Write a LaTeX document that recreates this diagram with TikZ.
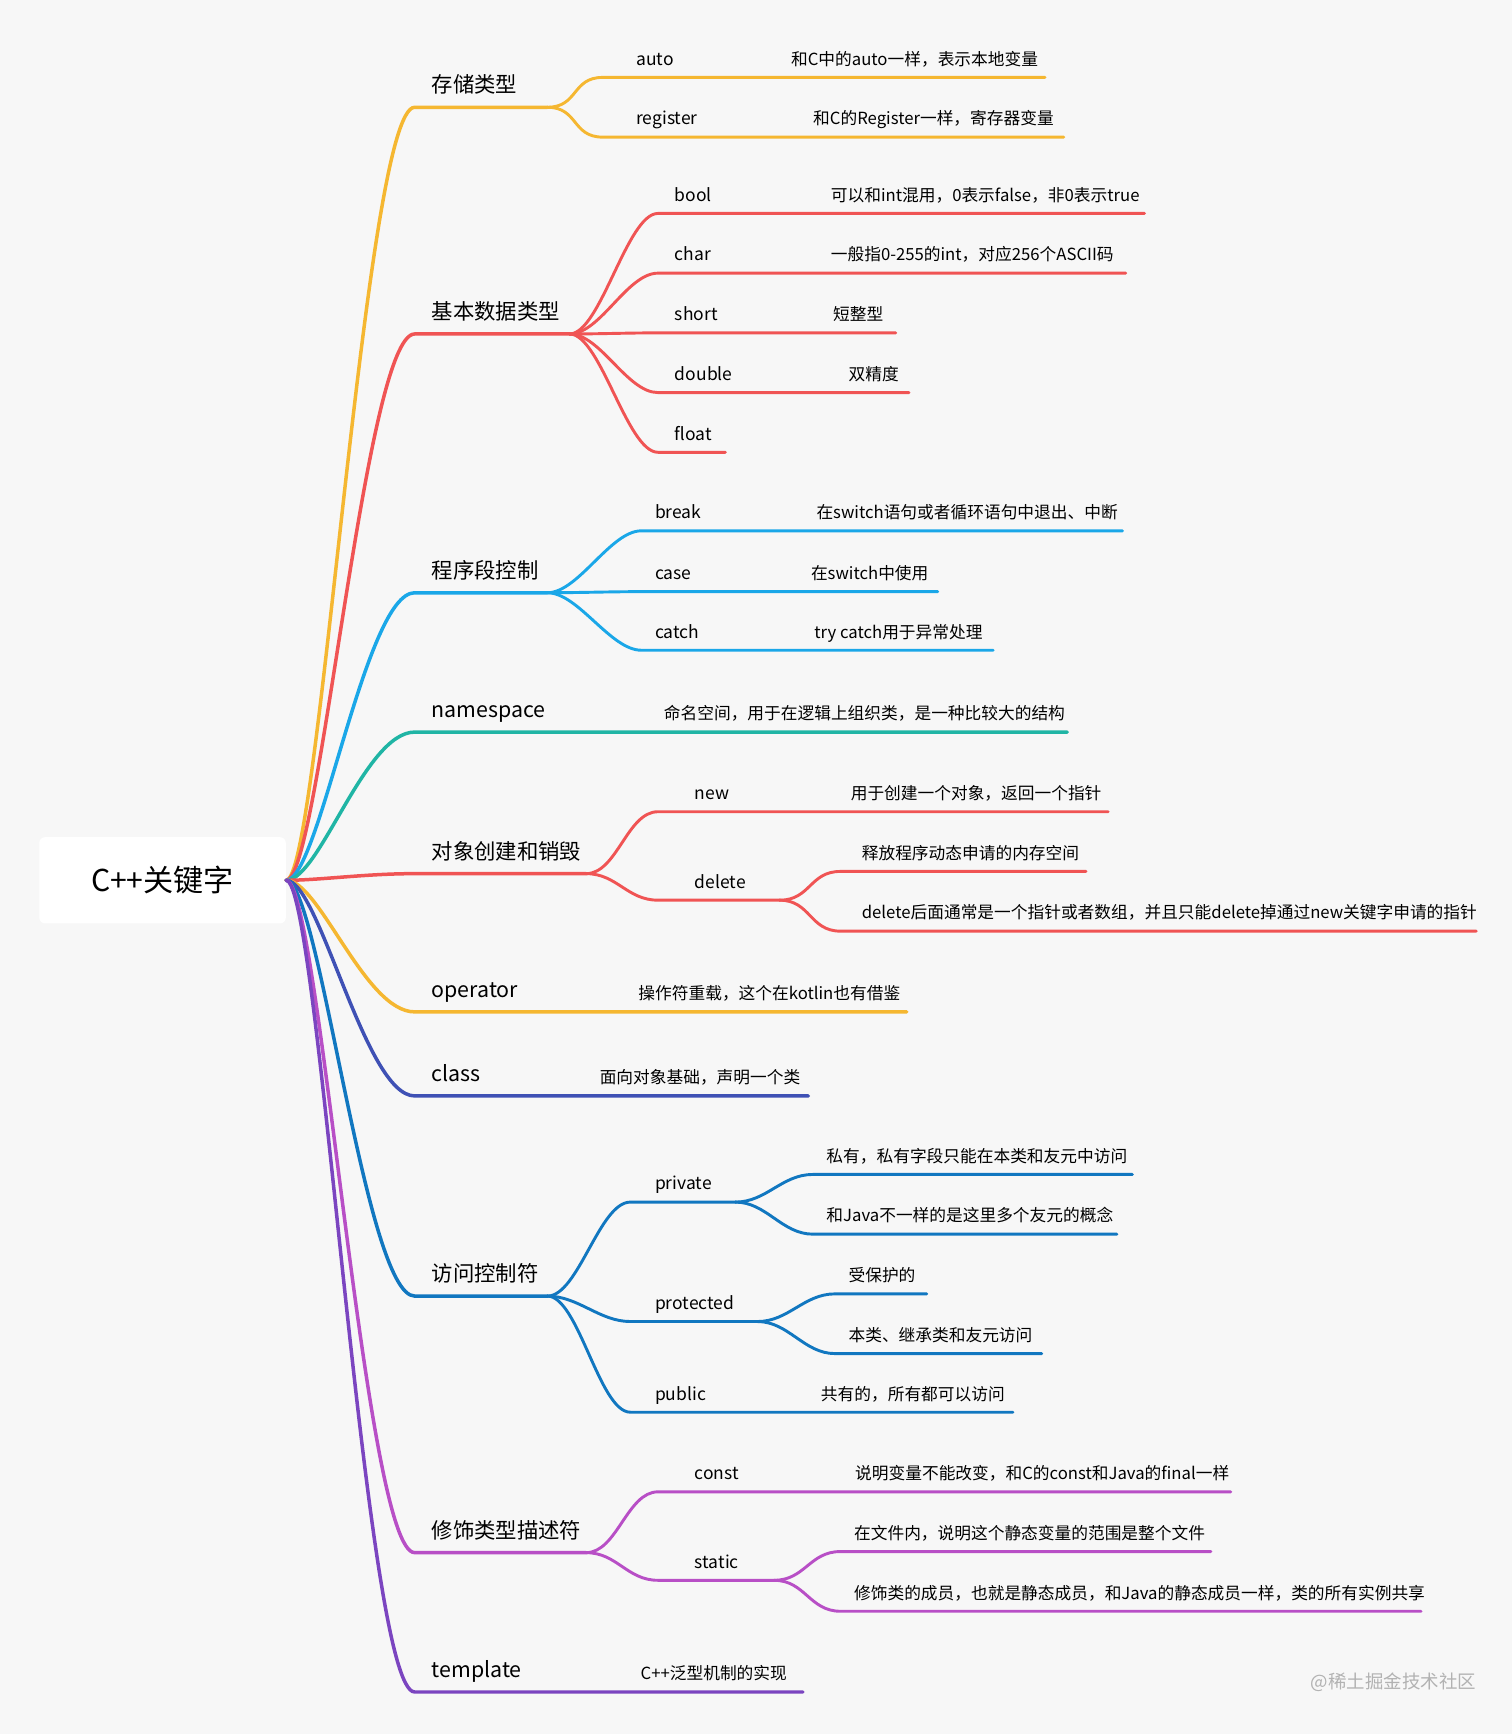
\documentclass[tikz,border=0pt]{standalone}
\usepackage{fontspec}
\setmainfont{Noto Sans CJK SC}
\usetikzlibrary{positioning}

\definecolor{bg}{HTML}{F7F7F7}
\definecolor{corange}{HTML}{F5B731}
\definecolor{cred}{HTML}{F05454}
\definecolor{cblue}{HTML}{1AA7E8}
\definecolor{cteal}{HTML}{20B5A5}
\definecolor{cindigo}{HTML}{3F51B5}
\definecolor{cdblue}{HTML}{1177C0}
\definecolor{cpurple}{HTML}{B84FC6}
\definecolor{cviolet}{HTML}{7B45C0}

\tikzset{
  wire/.style={line width=1.5pt, line cap=round},
  trunk/.style={line width=1.8pt, line cap=round},
  toptext/.style={font=\fontsize{11}{13}\selectfont, anchor=base west, inner sep=0pt},
  keytext/.style={font=\fontsize{9}{11}\selectfont, anchor=base west, inner sep=0pt},
  desctext/.style={font=\fontsize{8.6}{10}\selectfont, anchor=base west, inner sep=0pt},
}

% colour, from, x start, y, x end, key x, key, desc x, desc
\newcommand\leaf[9]{%
  \coordinate (ls) at (#3,#4);
  \coordinate (le) at (#5,#4);
  \draw[#1,wire] (#2) .. controls +(28,0) and +(-28,0) .. (ls) -- (le);
  \node[keytext] at (#6,#4-11) {#7};
  \node[desctext] at (#8,#4-11) {#9};
}
% colour, name, y, x end, text
\newcommand\topic[5]{%
  \coordinate (#2s) at (375,#3);
  \coordinate (#2) at (#4,#3);
  \draw[#1,trunk] (root.east) .. controls +(30,0) and +(-45,0) .. (#2s) -- (#2);
  \node[toptext] at (390,#3-13) {#5};
}

\begin{document}
\begin{tikzpicture}[x=0.02cm,y=-0.02cm]
  \fill[bg] (0,0) rectangle (1367,1568);
  \useasboundingbox (0,0) rectangle (1367,1568);

  \node[fill=white, rounded corners=3pt, minimum width=4.46cm, minimum height=1.56cm,
        font=\fontsize{15.5}{18}\selectfont] (root) at (147,796) {C++关键字};

  % 存储类型
  \topic{corange}{cunchu}{97}{495}{存储类型}
  \leaf{corange}{cunchu}{545}{70}{945}{575}{auto}{715}{和C中的auto一样，表示本地变量}
  \leaf{corange}{cunchu}{545}{124}{962}{575}{register}{735}{和C的Register一样，寄存器变量}

  % 基本数据类型
  \topic{cred}{jiben}{302}{515}{基本数据类型}
  \leaf{cred}{jiben}{595}{193}{1035}{610}{bool}{751}{可以和int混用，0表示false，非0表示true}
  \leaf{cred}{jiben}{595}{247}{1018}{610}{char}{751}{一般指0-255的int，对应256个ASCII码}
  \leaf{cred}{jiben}{595}{301}{810}{610}{short}{753}{短整型}
  \leaf{cred}{jiben}{595}{355}{822}{610}{double}{767}{双精度}
  \leaf{cred}{jiben}{595}{409}{656}{610}{float}{700}{}

  % 程序段控制
  \topic{cblue}{chengxu}{536}{495}{程序段控制}
  \leaf{cblue}{chengxu}{580}{480}{1015}{592}{break}{738}{在switch语句或者循环语句中退出、中断}
  \leaf{cblue}{chengxu}{580}{535}{848}{592}{case}{733}{在switch中使用}
  \leaf{cblue}{chengxu}{580}{588}{898}{592}{catch}{736}{try catch用于异常处理}

  % namespace
  \topic{cteal}{ns}{662}{965}{namespace}
  \node[desctext] at (600,651) {命名空间，用于在逻辑上组织类，是一种比较大的结构};

  % 对象创建和销毁
  \topic{cred}{duixiang}{790}{530}{对象创建和销毁}
  \leaf{cred}{duixiang}{595}{734}{1002}{628}{new}{769}{用于创建一个对象，返回一个指针}
  \leaf{cred}{duixiang}{595}{814}{705}{628}{delete}{700}{}
  \coordinate (del) at (705,814);
  \leaf{cred}{del}{760}{788}{982}{780}{}{779}{释放程序动态申请的内存空间}
  \leaf{cred}{del}{760}{842}{1335}{780}{}{779}{delete后面通常是一个指针或者数组，并且只能delete掉通过new关键字申请的指针}

  % operator
  \topic{corange}{op}{915}{820}{operator}
  \node[desctext] at (577,904) {操作符重载，这个在kotlin也有借鉴};

  % class
  \topic{cindigo}{cls}{991}{731}{class}
  \node[desctext] at (542,980) {面向对象基础，声明一个类};

  % 访问控制符
  \topic{cdblue}{fangwen}{1172}{495}{访问控制符}
  \leaf{cdblue}{fangwen}{570}{1087}{665}{592}{private}{700}{}
  \coordinate (pri) at (665,1087);
  \leaf{cdblue}{pri}{735}{1062}{1024}{750}{}{747}{私有，私有字段只能在本类和友元中访问}
  \leaf{cdblue}{pri}{735}{1116}{1010}{750}{}{747}{和Java不一样的是这里多个友元的概念}
  \leaf{cdblue}{fangwen}{570}{1195}{685}{592}{protected}{700}{}
  \coordinate (pro) at (685,1195);
  \leaf{cdblue}{pro}{755}{1170}{838}{770}{}{767}{受保护的}
  \leaf{cdblue}{pro}{755}{1224}{942}{770}{}{767}{本类、继承类和友元访问}
  \leaf{cdblue}{fangwen}{570}{1277}{916}{592}{public}{742}{共有的，所有都可以访问}

  % 修饰类型描述符
  \topic{cpurple}{xiushi}{1404}{530}{修饰类型描述符}
  \leaf{cpurple}{xiushi}{595}{1349}{1113}{628}{const}{773}{说明变量不能改变，和C的const和Java的final一样}
  \leaf{cpurple}{xiushi}{595}{1429}{700}{628}{static}{700}{}
  \coordinate (sta) at (700,1429);
  \leaf{cpurple}{sta}{760}{1403}{1095}{775}{}{772}{在文件内，说明这个静态变量的范围是整个文件}
  \leaf{cpurple}{sta}{760}{1457}{1285}{775}{}{772}{修饰类的成员，也就是静态成员，和Java的静态成员一样，类的所有实例共享}

  % template
  \topic{cviolet}{tpl}{1530}{726}{template}
  \node[desctext] at (579,1519) {C++泛型机制的实现};

  \node[desctext, text=gray!60, font=\fontsize{9.5}{12}\selectfont] (mark) at (1185,1527) {@稀土掘金技术社区};
\end{tikzpicture}
\end{document}
